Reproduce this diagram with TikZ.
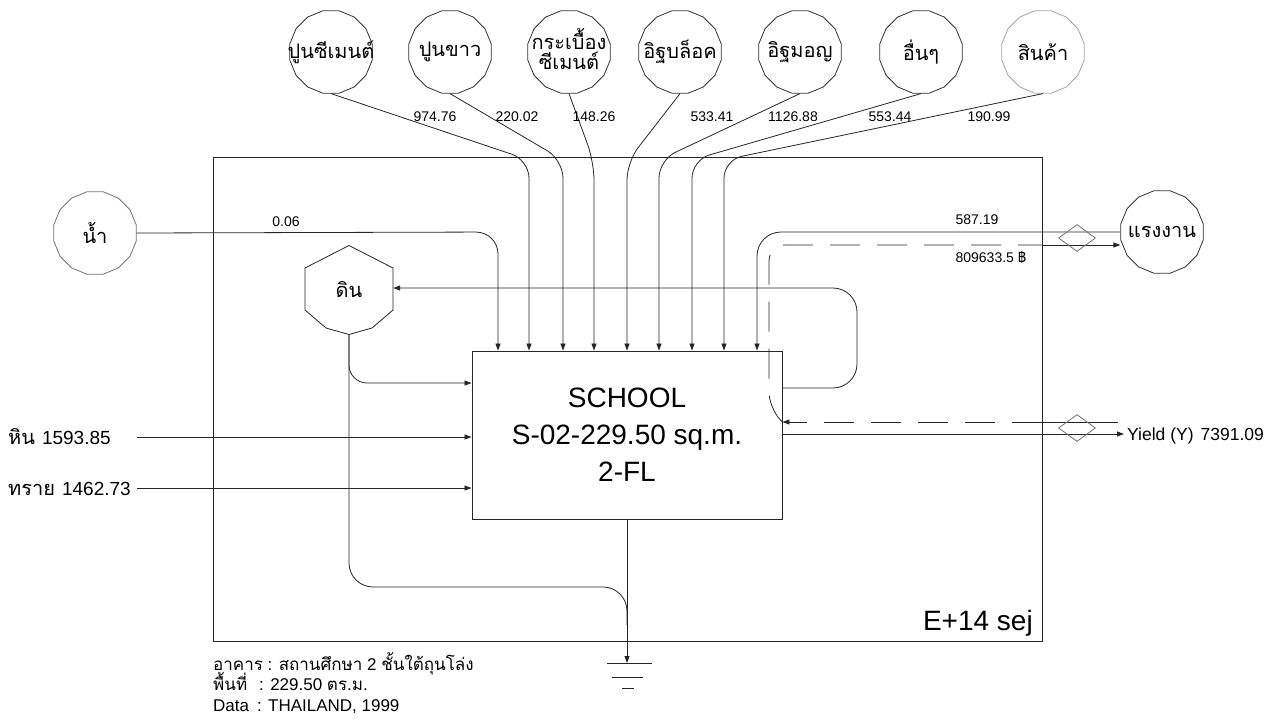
\documentclass[tikz,border=0pt]{standalone}
\usepackage{fontspec}
\setmainfont{Liberation Sans}
\newfontfamily\thaifont[Script=Thai]{Loma}
\usetikzlibrary{arrows.meta,shapes.geometric}
\newcommand\zw[1]{\makebox[0pt]{#1}}
\begin{document}
\begin{tikzpicture}[x=1pt,y=-1pt,
  ln/.style={line width=0.8pt, draw=black!85},
  arr/.style={ln, -{Triangle[length=7pt,width=5pt]}},
  money/.style={ln, dash pattern=on 30pt off 17pt},
  src/.style={draw=black!80, line width=0.8pt, regular polygon, regular polygon sides=16,
    minimum size=84pt, inner sep=0pt, font=\thaifont\fontsize{20}{20}\selectfont},
  val/.style={font=\fontsize{14}{14}\selectfont, inner sep=1pt},
  dia/.style={draw=black!55, line width=0.8pt, diamond, minimum width=37pt, minimum height=27pt, inner sep=0pt},
  lbl/.style={anchor=base west, inner sep=0pt}
]
\useasboundingbox (0,0) rectangle (1288,718);
\fill[white] (0,0) rectangle (1288,718);

% frame
\node[draw=black!85, line width=1pt, minimum width=829pt, minimum height=484pt, inner sep=0pt] (frame) at (627.5,399) {};

% sources on top
\node[src] (c1) at (331,52) {\zw{ปูนซีเมนต์}};
\node[src] (c2) at (450,52) {\zw{ปูนขาว}};
\node[src] (c3) at (569,52) {\zw{\begin{tabular}{@{}c@{}}กระเบื้อง\\[-4pt]ซีเมนต์\end{tabular}}};
\node[src] (c4) at (680,52) {\zw{อิฐบล็อค}};
\node[src] (c5) at (800,52) {\zw{อิฐมอญ}};
\node[src] (c6) at (921,52) {\zw{อื่นๆ}};
\node[src, draw=black!35] (c7) at (1043,52) {\zw{สินค้า}};

% main box
\node[draw=black!85, line width=0.9pt, minimum width=310pt, minimum height=168pt, align=center,
  font=\fontsize{28}{37}\selectfont] (box) at (627,435) {SCHOOL\\S-02-229.50 sq.m.\\2-FL};

% top inflows
\draw[arr, rounded corners=18pt] (c1.south) -- (529,160) -- (529,0 |- box.north);
\draw[arr, rounded corners=18pt] (c2.south) -- (563,160) -- (563,0 |- box.north);
\draw[arr, rounded corners=18pt] (c3.south) -- (594,162) -- (594,0 |- box.north);
\draw[arr, rounded corners=18pt] (c4.south) -- (627,162) -- (627,0 |- box.north);
\draw[arr, rounded corners=18pt] (c5.south) -- (659,160) -- (659,0 |- box.north);
\draw[arr, rounded corners=18pt] (c6.south) -- (692,160) -- (692,0 |- box.north);
\draw[arr, rounded corners=18pt] (c7.south) -- (724,160) -- (724,0 |- box.north);

\node[val] (v1) at (435,117) {974.76};
\node[val] (v2) at (517,117) {220.02};
\node[val] (v3) at (594,117) {148.26};
\node[val] (v4) at (712,117) {533.41};
\node[val] (v5) at (793,117) {1126.88};
\node[val] (v6) at (890,117) {553.44};
\node[val] (v7) at (989,117) {190.99};

% water
\node[src, draw=black!55] (w) at (95,233) {\zw{น้ำ}};
\draw[arr, rounded corners=22pt] (w.east) -- (498,232) -- (498,0 |- box.north);
\node[val] (v0) at (286,222) {0.06};

% soil storage
\node[minimum width=88pt, minimum height=89pt, inner sep=0pt, font=\thaifont\fontsize{20}{20}\selectfont] (soil) at (349,290) {ดิน};
\draw[ln] (349,245.5) -- (393,268) -- (393,310) -- (372,328) -- (349,334.5) -- (326,328) -- (305,310) -- (305,268) -- cycle;
\draw[arr, rounded corners=18pt] (soil.south) -- (349,383) -- (box.west |- 0,383);
\draw[ln, rounded corners=24pt] (soil.south) -- (349,587) -- (627,587) -- (627,625);

% feedback loop
\draw[arr, rounded corners=24pt] (box.east |- 0,388) -- (857,388) -- (857,288) -- (soil.east |- 0,288);

% left inputs
\coordinate (hinS) at (137,437);
\coordinate (saiS) at (137,488);
\node[lbl, font=\fontsize{19}{19}\selectfont] (hin) at (8,444) {{\thaifont\fontsize{20}{20}\selectfont หิน}\hspace{7pt}1593.85};
\node[lbl, font=\fontsize{19}{19}\selectfont] (sai) at (8,495) {{\thaifont\fontsize{20}{20}\selectfont ทราย}\hspace{7pt}1462.73};
\draw[arr] (hinS) -- (box.west |- hinS);
\draw[arr] (saiS) -- (box.west |- saiS);

% labour
\node[src] (lab) at (1162,232) {\zw{แรงงาน}};
\draw[arr, rounded corners=24pt] (lab.west) -- (757,232) -- (757,0 |- box.north);
\node[val] (v8) at (977,220) {587.19};
\coordinate (fr1) at (1042,245);
\draw[money, rounded corners=16pt] (box.east |- 0,422) -- (769,408) -- (769,245) -- (fr1);
\draw[arr] (fr1) -- (lab.west |- fr1);
\node[val] (v9) at (991,257) {809633.5 {\thaifont ฿}};
\node[dia] (d1) at (1077,238) {};

% yield
\node[lbl, font=\fontsize{17.5}{17.5}\selectfont] (yield) at (1127,440) {Yield (Y)\hspace{7pt}7391.09};
\draw[arr] (box.east |- 0,434) -- (1124,434);
\coordinate (ym) at (1118,422);
\coordinate (fr2) at (1042,422);
\draw[ln] (ym) -- (fr2);
\draw[money, -{Triangle[length=7pt,width=5pt]}] (fr2) -- (box.east |- fr2);
\node[dia] (d2) at (1077,428) {};

% heat sink
\coordinate (gnd) at (627,663);
\draw[arr] (box.south) -- (gnd);
\draw[ln] ([xshift=-20pt]gnd) -- ([xshift=25pt]gnd);
\draw[ln] ([xshift=-15pt,yshift=-14pt]gnd) -- ([xshift=16pt,yshift=-14pt]gnd);
\draw[ln] ([xshift=-5pt,yshift=-25pt]gnd) -- ([xshift=7pt,yshift=-25pt]gnd);

% units
\node[anchor=base east, inner sep=0pt, font=\fontsize{28}{28}\selectfont] (sej) at (1033,630) {E+14 sej};

% notes
\node[lbl, font=\fontsize{17}{17}\selectfont] (n1) at (213,670) {{\thaifont อาคาร} : {\thaifont สถานศึกษา} 2 {\thaifont ชั้นใต้ถุนโล่ง}};
\node[lbl, font=\fontsize{17}{17}\selectfont] (n2) at (213,690) {{\thaifont พื้นที่}\hspace{12pt}: 229.50 {\thaifont ตร.ม.}};
\node[lbl, font=\fontsize{17}{17}\selectfont] (n3) at (213,711) {Data\hspace{8pt}: THAILAND, 1999};
\end{tikzpicture}
\end{document}
